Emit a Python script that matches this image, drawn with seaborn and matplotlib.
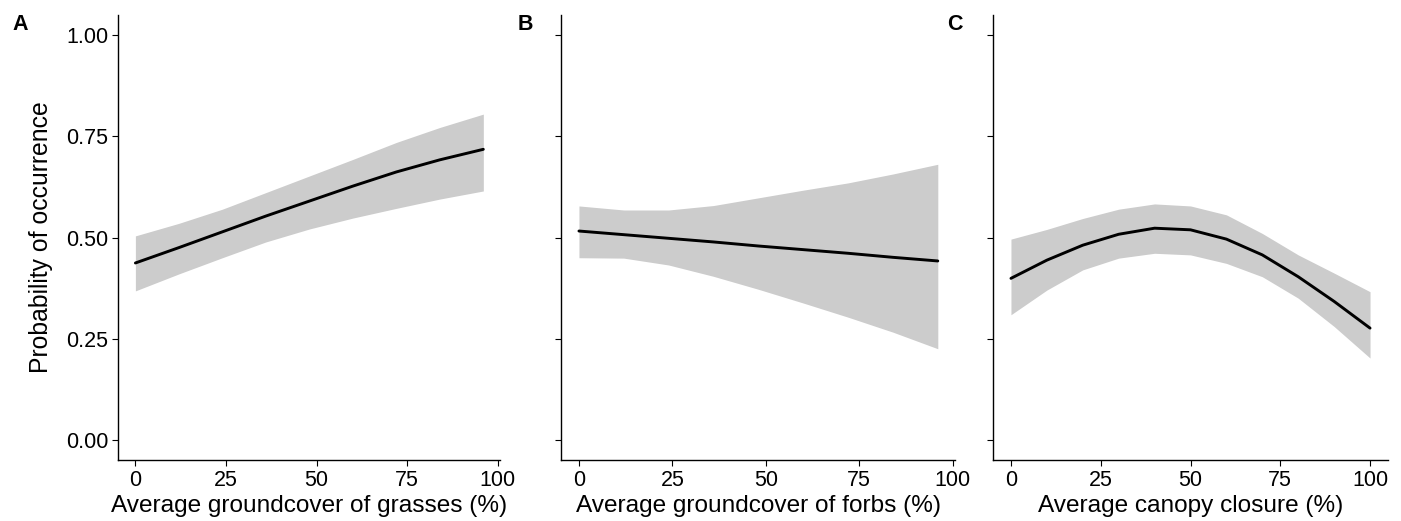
import numpy as np
import pandas as pd
import matplotlib
matplotlib.use("Agg")
import matplotlib.pyplot as plt
import seaborn as sns

# Panel A: groundcover of grasses
grass_x = [0, 12, 24, 36, 48, 60, 72, 84, 96]
grass_fit = [0.437, 0.475, 0.514, 0.553, 0.590, 0.627, 0.662, 0.692, 0.718]
grass_upr = [0.504, 0.535, 0.570, 0.611, 0.652, 0.693, 0.735, 0.772, 0.805]
grass_lwr = [0.368, 0.410, 0.450, 0.489, 0.521, 0.548, 0.572, 0.595, 0.615]

# Panel B: groundcover of forbs
forb_x = [0, 12, 24, 36, 48, 60, 72, 84, 96]
forb_fit = [0.516, 0.507, 0.498, 0.489, 0.479, 0.470, 0.461, 0.451, 0.442]
forb_upr = [0.578, 0.568, 0.568, 0.579, 0.598, 0.617, 0.635, 0.657, 0.681]
forb_lwr = [0.450, 0.449, 0.432, 0.404, 0.372, 0.338, 0.303, 0.266, 0.225]

# Panel C: canopy closure
canopy_x = [0, 10, 20, 30, 40, 50, 60, 70, 80, 90, 100]
canopy_fit = [0.399, 0.444, 0.481, 0.508, 0.523, 0.519, 0.496, 0.457, 0.403, 0.342, 0.276]
canopy_upr = [0.496, 0.520, 0.547, 0.570, 0.583, 0.578, 0.556, 0.510, 0.457, 0.412, 0.366]
canopy_lwr = [0.309, 0.370, 0.420, 0.449, 0.461, 0.457, 0.436, 0.403, 0.350, 0.280, 0.202]

panel_letters = ["A", "B", "C"]
x_titles = ["Average groundcover of grasses (%)",
            "Average groundcover of forbs (%)",
            "Average canopy closure (%)"]
y_title = "Probability of occurrence"
x_ticks = [0, 25, 50, 75, 100]
y_ticks = [0.00, 0.25, 0.50, 0.75, 1.00]

sns.set_theme(style="ticks")
plt.rcParams["font.family"] = ["Liberation Sans", "DejaVu Sans"]

W, H = 1401, 521
fig = plt.figure(figsize=(W / 100, H / 100), dpi=100)

# axes boxes in pixels: left, right
boxes = [(118, 500), (561, 955), (993, 1388)]
top_px, bottom_px = 15, 460

panels = [
    (grass_x, grass_fit, grass_upr, grass_lwr),
    (forb_x, forb_fit, forb_upr, forb_lwr),
    (canopy_x, canopy_fit, canopy_upr, canopy_lwr),
]

for i, ((l, r), (xs, fit, upr, lwr)) in enumerate(zip(boxes, panels)):
    ax = fig.add_axes([l / W, 1 - bottom_px / H, (r - l) / W, (bottom_px - top_px) / H])
    df = pd.DataFrame({"x": xs, "fit": fit, "upr": upr, "lwr": lwr})
    ax.fill_between(df["x"], df["lwr"], df["upr"], color="#cccccc", linewidth=0)
    sns.lineplot(data=df, x="x", y="fit", ax=ax, color="black", linewidth=2.1)

    span = max(xs) - min(xs)
    if max(xs) < 100:
        ax.set_xlim(min(xs) - 0.05 * span, 100.6)
    else:
        ax.set_xlim(min(xs) - 0.05 * span, max(xs) + 0.05 * span)
    ax.set_ylim(-0.05, 1.05)
    ax.set_xticks(x_ticks)
    ax.set_yticks(y_ticks)
    ax.set_xticklabels([str(t) for t in x_ticks])
    if i == 0:
        ax.set_yticklabels([f"{t:.2f}" for t in y_ticks])
        ax.set_ylabel(y_title, fontsize=17.8, color="black", labelpad=9)
    else:
        ax.set_yticklabels([])
        ax.set_ylabel("")
    ax.set_xlabel(x_titles[i], fontsize=17.6, color="black", labelpad=3)
    ax.tick_params(axis="both", labelsize=15.5, colors="black", length=4, width=0.8, pad=3)
    for s in ["top", "right"]:
        ax.spines[s].set_visible(False)
    for s in ["left", "bottom"]:
        ax.spines[s].set_color("black")
        ax.spines[s].set_linewidth(1.0)

letter_x = [20, 525, 955]
for lx, letter in zip(letter_x, panel_letters):
    fig.text(lx / W, 1 - 25 / H, letter, fontsize=15.5, fontweight="bold",
             ha="center", va="center", color="black")

fig.savefig("out.png", dpi=100)
